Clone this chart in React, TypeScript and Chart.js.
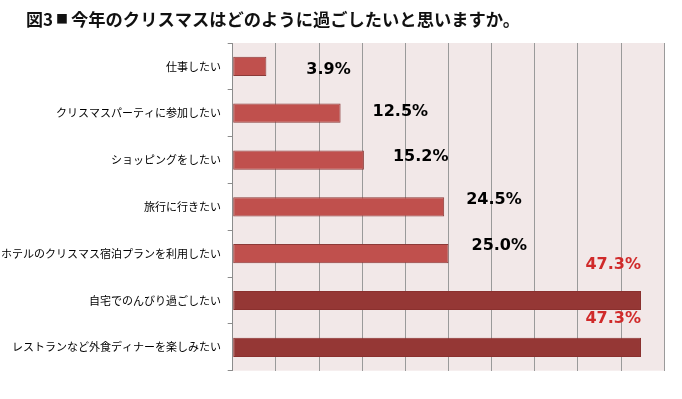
import React, { useEffect, useRef } from "react";
import { Chart, registerables } from "chart.js";

Chart.register(...registerables);

const titleText = "図3■今年のクリスマスはどのように過ごしたいと思いますか。";
const categories = [
  "仕事したい",
  "クリスマスパーティに参加したい",
  "ショッピングをしたい",
  "旅行に行きたい",
  "ホテルのクリスマス宿泊プランを利用したい",
  "自宅でのんびり過ごしたい",
  "レストランなど外食ディナーを楽しみたい",
];
const values = [3.9, 12.5, 15.2, 24.5, 25.0, 47.3, 47.3];
const axisMin = 0;
const axisMax = 50;
const axisStep = 5;

const LIGHT = "#C0504D";
const DARK = "#953735";
const RED_TEXT = "#D02A2A";
const maxVal = Math.max(...values);

// label offsets relative to bar end (style only)
const labelDx = [40, 32, 29, 22, 23, 0, 0];
const labelDy = [3, -1.5, -3, -7.5, -7.5, -36, -28.5];

export default function App() {
  const ref = useRef<HTMLCanvasElement | null>(null);
  useEffect(() => {
    document.body.style.margin = "0";
    const canvas = ref.current!;
    const bgPlugin = {
      id: "bg",
      beforeDraw(chart: any) {
        const { ctx, chartArea } = chart;
        ctx.save();
        ctx.fillStyle = "#F2E8E8";
        ctx.fillRect(chartArea.left, chartArea.top, chartArea.right - chartArea.left, chartArea.bottom - chartArea.top);
        ctx.restore();
      },
      afterDraw(chart: any) {
        const ctx = chart.ctx;
        ctx.save();
        ctx.fillStyle = "#111";
        ctx.textBaseline = "middle";
        ctx.textAlign = "left";
        const idx = titleText.indexOf("■");
        const head = titleText.slice(0, idx);
        const rest = titleText.slice(idx + 1);
        ctx.font = "bold 17px 'Noto Sans CJK JP'";
        ctx.fillText(head, 26, 19.5);
        ctx.font = "bold 12px 'Noto Sans CJK JP'";
        ctx.fillText("■", 56, 19.5);
        ctx.font = "bold 17.3px 'Noto Sans CJK JP'";
        ctx.fillText(rest, 71, 19.5);
        ctx.restore();
      },
      afterDatasetsDraw(chart: any) {
        const ctx = chart.ctx;
        const meta = chart.getDatasetMeta(0);
        ctx.save();
        ctx.font = "bold 16px 'DejaVu Sans'";
        ctx.textBaseline = "middle";
        meta.data.forEach((bar: any, i: number) => {
          const v = values[i];
          const txt = v.toFixed(1) + "%";
          if (v === maxVal) {
            ctx.fillStyle = RED_TEXT;
            ctx.textAlign = "right";
          } else {
            ctx.fillStyle = "#000";
            ctx.textAlign = "left";
          }
          ctx.fillText(txt, bar.x + labelDx[i], bar.y + labelDy[i]);
        });
        ctx.restore();
      },
    };
    const chart = new Chart(canvas, {
      type: "bar",
      data: {
        labels: categories,
        datasets: [
          {
            data: values,
            backgroundColor: values.map((v) => (v === maxVal ? DARK : LIGHT)),
            borderColor: values.map((v) => (v === maxVal ? "#8a302e" : "#8C3A38")),
            borderWidth: 1,
            borderSkipped: false,
            barPercentage: 0.41,
            categoryPercentage: 1,
          },
        ],
      },
      options: {
        indexAxis: "y",
        animation: false,
        responsive: false,
        maintainAspectRatio: false,
        layout: { padding: { top: 43, right: 17.7, bottom: 28.3, left: 0 } },
        plugins: { legend: { display: false }, tooltip: { enabled: false }, title: { display: false } },
        scales: {
          x: {
            min: axisMin,
            max: axisMax,
            ticks: { display: false, stepSize: axisStep },
            border: { display: false },
            grid: { color: "#9a9a9a", lineWidth: 1, drawTicks: false },
          },
          y: {
            afterFit(scale: any) {
              scale.width = 232.7;
            },
            border: { display: true, color: "#8c8c8c", width: 1 },
            grid: { drawOnChartArea: false, drawTicks: true, tickLength: 5, color: "#8c8c8c", offset: true },
            ticks: { color: "#000", font: { family: "'Noto Sans CJK JP'", size: 11 }, padding: 6.7 },
          },
        },
      },
      plugins: [bgPlugin],
    });
    return () => chart.destroy();
  }, []);
  return (
    <div style={{ width: 682, height: 399 }}>
      <canvas ref={ref} width={682} height={399} style={{ display: "block" }} />
    </div>
  );
}
